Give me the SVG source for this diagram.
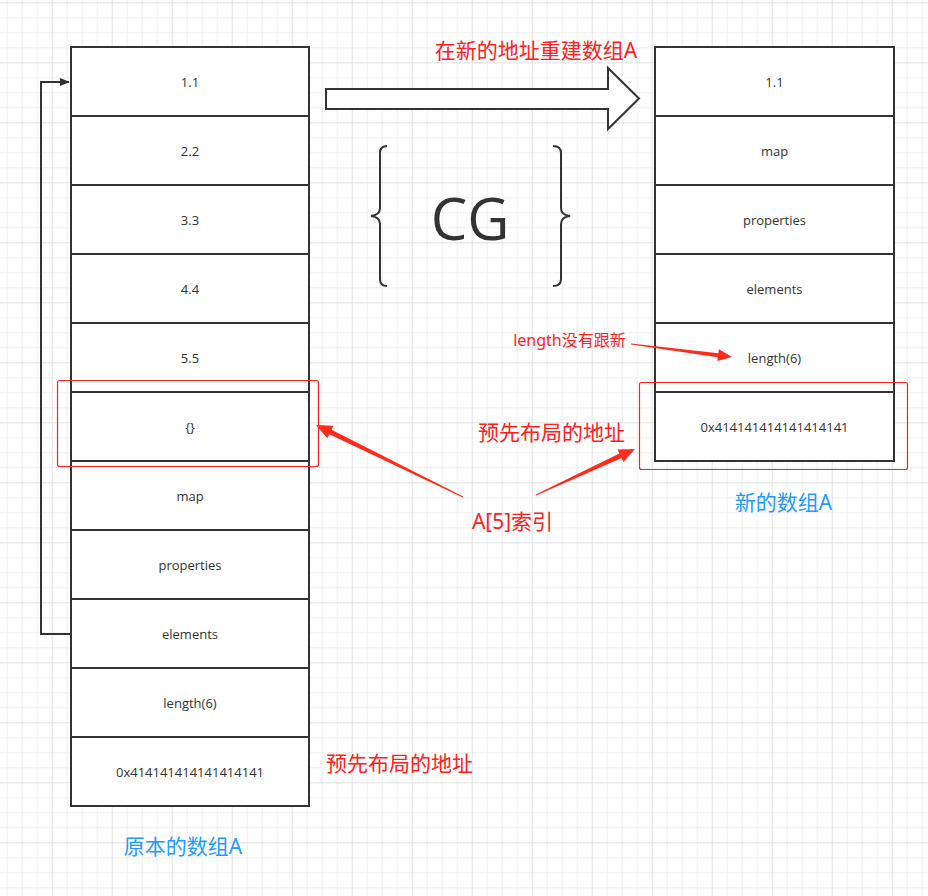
<svg xmlns="http://www.w3.org/2000/svg" width="928" height="896" viewBox="0 0 928 896">
<style>
.cell{fill:#fff;stroke:#333;stroke-width:2}
.ct{font-family:"Open Sans","Liberation Sans",sans-serif;font-size:13px;fill:#333;text-anchor:middle;dominant-baseline:central}
.red{font-family:"Noto Sans","Noto Sans CJK SC",sans-serif;fill:#ff2020;text-anchor:middle;dominant-baseline:central}
.blue{font-family:"Noto Sans","Noto Sans CJK SC",sans-serif;fill:#1e9bff;text-anchor:middle;dominant-baseline:central;font-size:21px}
.hl{fill:none;stroke:#ff2020;stroke-width:1.2}
.ra{fill:#ff2b1c;stroke:none}
</style>
<defs>
<pattern id="grid" width="60" height="60" patternUnits="userSpaceOnUse" x="51.7" y="2.3">
<rect width="60" height="60" fill="#fff"/>
<path d="M15.5 0V60M30.5 0V60M45.5 0V60M0 15.5H60M0 30.5H60M0 45.5H60" stroke="#efefef" stroke-width="1"/>
<path d="M0.5 0V60M0 0.5H60" stroke="#e2e2e2" stroke-width="1"/>
</pattern>
<marker id="ah" markerWidth="10" markerHeight="8" refX="9" refY="4" orient="auto" markerUnits="userSpaceOnUse">
<path d="M0,0 L10,4 L0,8 Z" fill="#333"/>
</marker>
</defs>
<rect x="0" y="0" width="928" height="896" fill="url(#grid)"/>

<g id="left-array">
<g id="l1"><rect class="cell" x="71" y="47" width="238" height="69"/><text class="ct" x="190" y="82">1.1</text></g>
<g id="l2"><rect class="cell" x="71" y="116" width="238" height="69"/><text class="ct" x="190" y="151">2.2</text></g>
<g id="l3"><rect class="cell" x="71" y="185" width="238" height="69"/><text class="ct" x="190" y="220">3.3</text></g>
<g id="l4"><rect class="cell" x="71" y="254" width="238" height="69"/><text class="ct" x="190" y="289">4.4</text></g>
<g id="l5"><rect class="cell" x="71" y="323" width="238" height="69"/><text class="ct" x="190" y="358">5.5</text></g>
<g id="l6"><rect class="cell" x="71" y="392" width="238" height="69"/><text class="ct" x="190" y="427">{}</text></g>
<g id="l7"><rect class="cell" x="71" y="461" width="238" height="69"/><text class="ct" x="190" y="496">map</text></g>
<g id="l8"><rect class="cell" x="71" y="530" width="238" height="69"/><text class="ct" x="190" y="565">properties</text></g>
<g id="l9"><rect class="cell" x="71" y="599" width="238" height="69"/><text class="ct" x="190" y="634">elements</text></g>
<g id="l10"><rect class="cell" x="71" y="668" width="238" height="69"/><text class="ct" x="190" y="703">length(6)</text></g>
<g id="l11"><rect class="cell" x="71" y="737" width="238" height="69"/><text class="ct" x="190" y="772">0x414141414141414141</text></g>
</g>

<g id="right-array">
<g id="r1"><rect class="cell" x="655" y="47" width="239" height="69"/><text class="ct" x="774.5" y="82">1.1</text></g>
<g id="r2"><rect class="cell" x="655" y="116" width="239" height="69"/><text class="ct" x="774.5" y="151">map</text></g>
<g id="r3"><rect class="cell" x="655" y="185" width="239" height="69"/><text class="ct" x="774.5" y="220">properties</text></g>
<g id="r4"><rect class="cell" x="655" y="254" width="239" height="69"/><text class="ct" x="774.5" y="289">elements</text></g>
<g id="r5"><rect class="cell" x="655" y="323" width="239" height="69"/><text class="ct" x="774.5" y="358">length(6)</text></g>
<g id="r6"><rect class="cell" x="655" y="392" width="239" height="69"/><text class="ct" x="774.5" y="427">0x414141414141414141</text></g>
</g>

<g id="highlight-left"><rect class="hl" x="57.5" y="380.5" width="261" height="86" rx="2"/></g>
<g id="highlight-right"><rect class="hl" x="639.5" y="382.5" width="268" height="87" rx="2"/></g>

<g id="big-arrow">
<polygon points="326,89 608,89 608,68 639,98.5 608,129 608,109 326,109" fill="#fff" stroke="#333" stroke-width="2" stroke-linejoin="miter"/>
</g>

<g id="cg">
<path d="M387,146 Q380,146 380,153 L380,208 Q380,215 371,216 Q380,217 380,224 L380,279 Q380,286 387,286" fill="none" stroke="#333" stroke-width="2"/>
<path d="M553,146 Q561,146 561,153 L561,208 Q561,215 570,216 Q561,217 561,224 L561,279 Q561,286 553,286" fill="none" stroke="#333" stroke-width="2"/>
<text x="470" y="240" font-family="Open Sans, Liberation Sans, sans-serif" font-size="58" fill="#333" text-anchor="middle">CG</text>
</g>

<g id="labels">
<text class="red" x="536" y="50" font-size="21">在新的地址重建数组A</text>
<text class="red" x="569.5" y="340" font-size="16">length没有跟新</text>
<text class="red" x="551.5" y="432" font-size="21">预先布局的地址</text>
<text class="red" x="512.5" y="521" font-size="21">A[5]索引</text>
<text class="red" x="399.5" y="763" font-size="21">预先布局的地址</text>
<text class="blue" x="183" y="846">原本的数组A</text>
<text class="blue" x="783.5" y="502">新的数组A</text>
</g>

<g id="connectors">
<path d="M71,634 H41 V82 H69" fill="none" stroke="#333" stroke-width="2" marker-end="url(#ah)"/>
<polygon class="ra" points="463.2,496.6 331.5,429.8 333.5,425.7 316,425 327.3,438.3 329.3,434.2 462.8,497.4"/>
<polygon class="ra" points="536.2,495.5 621.6,458 623.4,462.1 635,449 617.6,449.4 619.4,453.4 535.8,494.5"/>
<polygon class="ra" points="630.9,344.5 717.8,357.2 717.3,361 732,357 718.9,349.2 718.4,353.2 631.1,343.5"/>
</g>
</svg>
